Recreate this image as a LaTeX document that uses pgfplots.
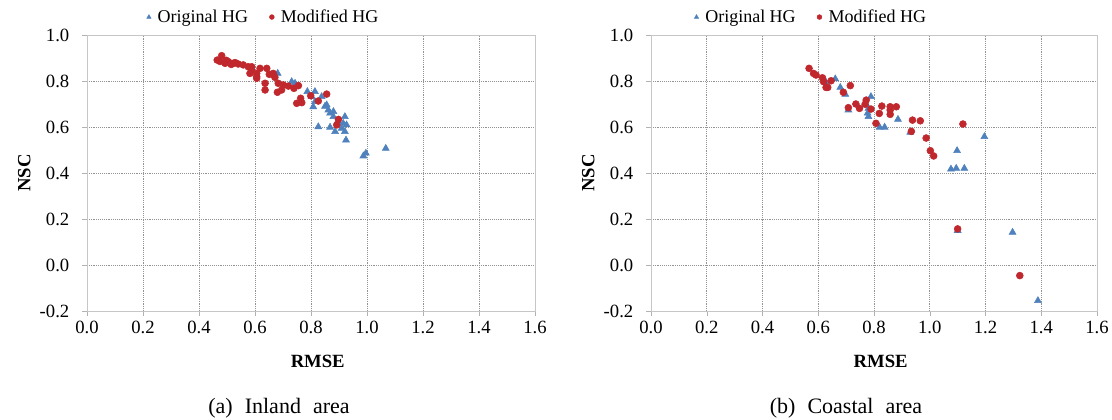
\documentclass[border=0pt]{standalone}
\usepackage{fontspec}
\setmainfont{Liberation Serif}
\usepackage{pgfplots}
\pgfplotsset{compat=1.18}
\definecolor{hgblue}{HTML}{4F81BD}
\definecolor{hgred}{HTML}{C0282D}

\pgfplotsset{
  nscax/.style={
    scale only axis,
    height=207pt,
    xmin=0, xmax=1.6, ymin=-0.2, ymax=1.0,
    xtick={0,0.2,0.4,0.6,0.8,1.0,1.2,1.4,1.6},
    ytick={-0.2,0,0.2,0.4,0.6,0.8,1.0},
    xticklabel={\pgfmathprintnumber[fixed,fixed zerofill,precision=1]{\tick}},
    yticklabel={\pgfmathprintnumber[fixed,fixed zerofill,precision=1]{\tick}},
    /pgf/number format/assume math mode=true,
    grid=major,
    grid style={draw=gray!85, line width=0.5pt, dash pattern=on 0.7pt off 0.7pt},
    axis line style={draw=gray!45},
    tick style={draw=gray!60},
    tick align=outside,
    major tick length=3.75pt,
    xtick pos=bottom, ytick pos=left,
    tick label style={font=\fontsize{14}{16}\selectfont},
    yticklabel style={xshift=-6pt},
    xlabel={\textbf{RMSE}},
    ylabel={\textbf{NSC}},
    label style={font=\fontsize{14}{16}\selectfont},
    xlabel style={at={(axis description cs:0.515,0)}, anchor=center, yshift=-38pt},
    ylabel style={at={(axis description cs:0,0.5)}, anchor=center, yshift=47pt},
    legend columns=2,
    legend style={draw=none, fill=none, anchor=center,
      font=\fontsize{13.5}{15}\selectfont,
      /tikz/every odd column/.append style={column sep=3pt},
      /tikz/every even column/.append style={column sep=14pt}},
    legend image post style={mark size=1.8pt},
  },
  orig/.style={only marks, mark=triangle*, mark size=3pt,
    mark options={fill=hgblue, draw=hgblue}},
  modi/.style={only marks, mark=*, mark size=2.6pt,
    mark options={fill=hgred, draw=hgred}},
}

\begin{document}
\begin{tikzpicture}
\path[use as bounding box] (-65.25pt,-81pt) rectangle (768.75pt,233.25pt);

% (a) inland
\begin{axis}[nscax, width=336pt,
  legend style={at={(0.395,1.065)}}]
\addplot[orig] coordinates {
(0.681,0.833) (0.731,0.797) (0.743,0.790) (0.787,0.754) (0.814,0.754)
(0.802,0.732) (0.814,0.710) (0.808,0.688) (0.838,0.732) (0.856,0.696)
(0.862,0.674) (0.868,0.660) (0.880,0.667) (0.921,0.645) (0.915,0.616)
(0.909,0.594) (0.921,0.580) (0.925,0.543) (0.826,0.601) (0.868,0.599)
(0.886,0.580) (0.987,0.474) (0.996,0.486) (1.067,0.507) (0.880,0.645)
(0.927,0.609) (0.850,0.690) (0.895,0.625)
};
\addlegendentry{Original HG}
\addplot[modi] coordinates {
(0.465,0.891) (0.481,0.910) (0.493,0.877) (0.505,0.884) (0.523,0.877)
(0.529,0.880) (0.540,0.874) (0.558,0.870) (0.576,0.862) (0.588,0.862)
(0.588,0.848) (0.582,0.833) (0.606,0.819) (0.606,0.833) (0.606,0.812)
(0.618,0.855) (0.642,0.855) (0.651,0.829) (0.665,0.833) (0.671,0.816)
(0.636,0.790) (0.636,0.761) (0.683,0.790) (0.695,0.761) (0.680,0.751)
(0.701,0.783) (0.719,0.778) (0.739,0.768) (0.755,0.780) (0.749,0.703)
(0.763,0.725) (0.767,0.706) (0.799,0.736) (0.826,0.713) (0.856,0.743)
(0.898,0.633) (0.892,0.609) (0.475,0.885) (0.497,0.890) (0.515,0.872)
};
\addlegendentry{Modified HG}
\end{axis}

% (b) coastal
\begin{axis}[nscax, width=334.5pt, xshift=423pt,
  legend style={at={(0.36,1.065)}}]
\addplot[orig] coordinates {
(0.628,0.794) (0.661,0.809) (0.679,0.772) (0.697,0.742) (0.708,0.674)
(0.772,0.696) (0.789,0.732) (0.780,0.681) (0.777,0.660) (0.780,0.645)
(0.820,0.599) (0.838,0.599) (0.886,0.633) (0.930,0.577) (1.098,0.497)
(1.076,0.417) (1.095,0.420) (1.124,0.420) (1.196,0.558) (1.297,0.142)
(1.388,-0.155) (1.100,0.150)
};
\addlegendentry{Original HG}
\addplot[modi] coordinates {
(0.567,0.855) (0.583,0.833) (0.592,0.826) (0.615,0.814) (0.619,0.797)
(0.628,0.772) (0.634,0.772) (0.646,0.801) (0.690,0.751) (0.715,0.780)
(0.708,0.684) (0.735,0.700) (0.748,0.681) (0.768,0.699) (0.772,0.717)
(0.789,0.678) (0.807,0.616) (0.819,0.659) (0.828,0.691) (0.858,0.688)
(0.858,0.674) (0.858,0.655) (0.880,0.688) (0.938,0.630) (0.966,0.627)
(0.934,0.581) (0.987,0.552) (1.002,0.497) (1.014,0.474) (1.119,0.613)
(1.100,0.157) (1.323,-0.046)
};
\addlegendentry{Modified HG}
\end{axis}

\node[font=\fontsize{16.5}{18}\selectfont] at (144pt,-72.75pt) {(a)\hspace{0.55em}Inland\hspace{0.55em}area};
\node[font=\fontsize{16.5}{18}\selectfont] at (569.25pt,-72.75pt) {(b)\hspace{0.55em}Coastal\hspace{0.55em}area};
\end{tikzpicture}
\end{document}
